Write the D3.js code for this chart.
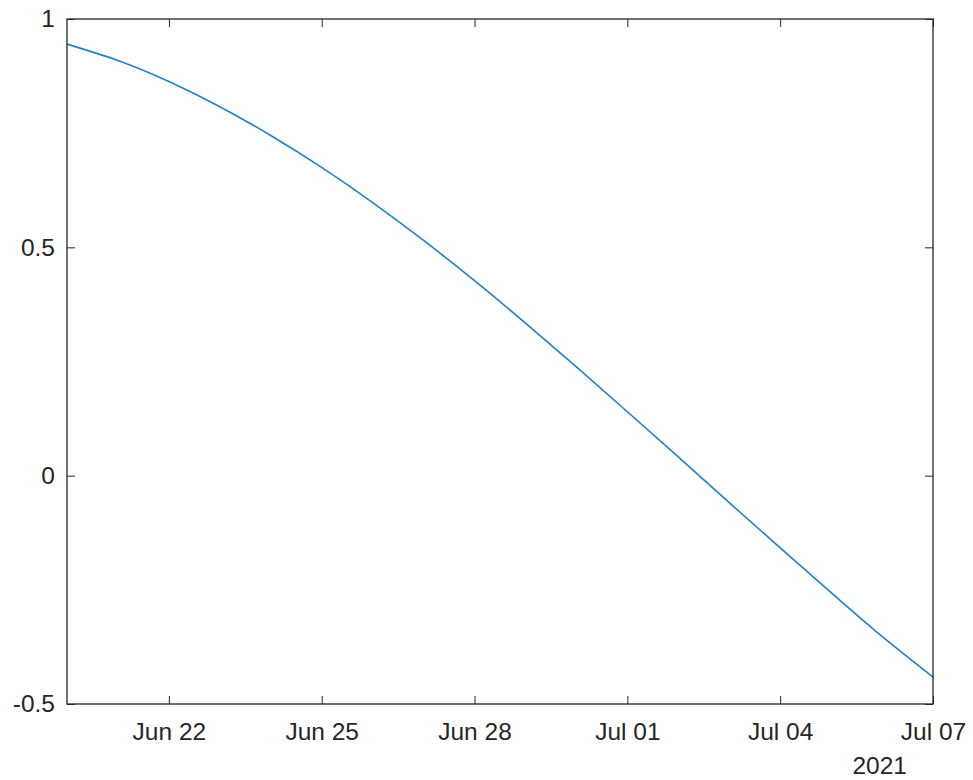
<!DOCTYPE html>
<html>
<head>
<meta charset="utf-8">
<script src="https://cdn.jsdelivr.net/npm/d3@7"></script>
<style>
  html, body { margin: 0; padding: 0; background: #ffffff; }
  svg { display: block; }
  text { font-family: "Liberation Sans", Arial, Helvetica, sans-serif; }
</style>
</head>
<body>
<svg id="chart" width="973" height="780"></svg>
<script>
// ---- data ----
const dates = [
  "2021-06-20","2021-06-21","2021-06-22","2021-06-23","2021-06-24","2021-06-25",
  "2021-06-26","2021-06-27","2021-06-28","2021-06-29","2021-06-30","2021-07-01",
  "2021-07-02","2021-07-03","2021-07-04","2021-07-05","2021-07-06","2021-07-07"
];
const values = [
  0.945, 0.909, 0.863, 0.808, 0.745, 0.675,
  0.598, 0.515, 0.427, 0.334, 0.238, 0.140,
  0.041, -0.059, -0.158, -0.256, -0.352, -0.441
];
const xTickDates = ["2021-06-22","2021-06-25","2021-06-28","2021-07-01","2021-07-04","2021-07-07"];
const xTickLabels = ["Jun 22","Jun 25","Jun 28","Jul 01","Jul 04","Jul 07"];
const yTicks = [-0.5, 0, 0.5, 1];
const yTickLabels = ["-0.5", "0", "0.5", "1"];
const yearLabel = "2021";
const xDomain = ["2021-06-20", "2021-07-07"];
const yDomain = [-0.5, 1];

(function () {
const mLeft = 67, mRight = 933, mTop = 19, mBottom = 704;
const axisColor = "#262626";
const lineColor = "#1f80cc";
const fontSize = 24.5;

const parse = d3.utcParse("%Y-%m-%d");
const svg = d3.select("#chart");

const x = d3.scaleUtc().domain(xDomain.map(parse)).range([mLeft, mRight]);
const y = d3.scaleLinear().domain(yDomain).range([mBottom, mTop]);

const data = dates.map((d, i) => ({ date: parse(d), value: values[i] }));

const line = d3.line()
  .x(d => x(d.date))
  .y(d => y(d.value))
  .curve(d3.curveNatural);

svg.append("path")
  .datum(data)
  .attr("fill", "none")
  .attr("stroke", lineColor)
  .attr("stroke-width", 1.6)
  .attr("d", line);

const xTickVals = xTickDates.map(parse);
const xLabelOf = new Map(xTickDates.map((d, i) => [parse(d).getTime(), xTickLabels[i]]));
const yLabelOf = new Map(yTicks.map((v, i) => [v, yTickLabels[i]]));

function styleAxis(g, showText) {
  g.select(".domain").remove();
  g.selectAll(".tick line").attr("stroke", axisColor).attr("stroke-width", 1);
  g.selectAll(".tick text")
    .attr("fill", axisColor)
    .attr("font-size", fontSize)
    .attr("font-family", "Liberation Sans, Arial, sans-serif")
    .style("display", showText ? null : "none");
}

svg.append("g")
  .attr("transform", `translate(0,${mBottom})`)
  .call(d3.axisBottom(x).tickValues(xTickVals).tickSize(-8).tickPadding(19)
    .tickFormat(d => xLabelOf.get(d.getTime())))
  .call(g => styleAxis(g, true));

svg.append("g")
  .attr("transform", `translate(0,${mTop})`)
  .call(d3.axisTop(x).tickValues(xTickVals).tickSize(-8).tickFormat(() => ""))
  .call(g => styleAxis(g, false));

svg.append("g")
  .attr("transform", `translate(${mLeft},0)`)
  .call(d3.axisLeft(y).tickValues(yTicks).tickSize(-8).tickPadding(12)
    .tickFormat(v => yLabelOf.get(v)))
  .call(g => styleAxis(g, true));

svg.append("g")
  .attr("transform", `translate(${mRight},0)`)
  .call(d3.axisRight(y).tickValues(yTicks).tickSize(-8).tickFormat(() => ""))
  .call(g => styleAxis(g, false));

svg.append("rect")
  .attr("x", mLeft).attr("y", mTop)
  .attr("width", mRight - mLeft).attr("height", mBottom - mTop)
  .attr("fill", "none")
  .attr("stroke", axisColor)
  .attr("stroke-width", 1.3);

svg.append("text")
  .attr("x", 907)
  .attr("y", 774)
  .attr("text-anchor", "end")
  .attr("fill", axisColor)
  .attr("font-size", fontSize)
  .text(yearLabel);
})();
</script>
</body>
</html>
